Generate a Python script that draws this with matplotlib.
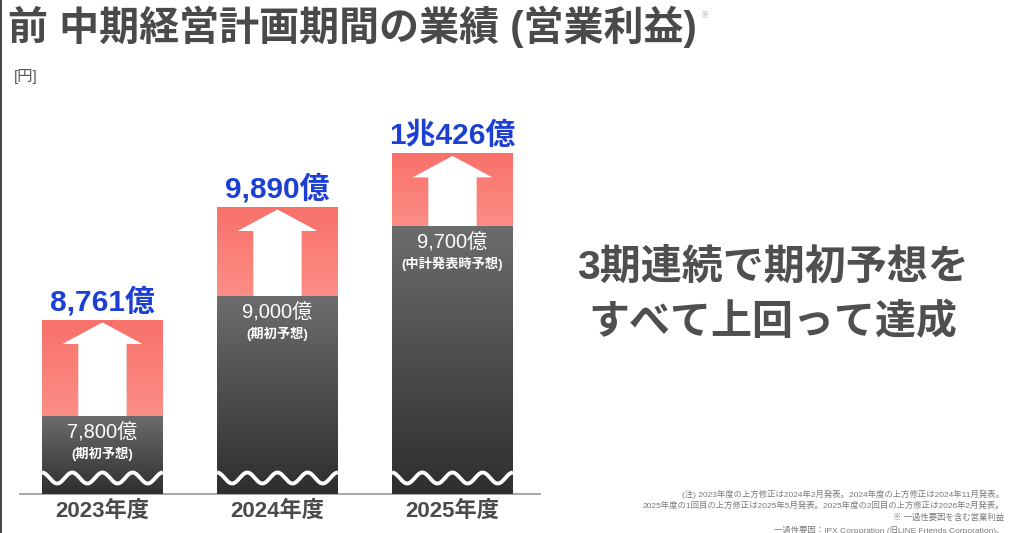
import numpy as np
import matplotlib
matplotlib.use("Agg")
import matplotlib.pyplot as plt
from matplotlib.colors import LinearSegmentedColormap
from matplotlib.lines import Line2D

# Latin glyphs from Liberation Sans, Japanese falls back to Noto CJK
plt.rcParams['font.family'] = ['Liberation Sans', 'Noto Sans CJK JP', 'DejaVu Sans']

# data (億円)
years = ["2023年度", "2024年度", "2025年度"]
forecast = [7800, 9000, 9700]
actual = [8761, 9890, 10426]
actual_labels = ["8,761億", "9,890億", "1兆426億"]
forecast_labels = ["7,800億", "9,000億", "9,700億"]
forecast_notes = ["(期初予想)", "(期初予想)", "(中計発表時予想)"]
footnotes = [
    "(注) 2023年度の上方修正は2024年2月発表。2024年度の上方修正は2024年11月発表。",
    "2025年度の1回目の上方修正は2025年5月発表。2025年度の2回目の上方修正は2026年2月発表。",
    "※ 一過性要因を含む営業利益",
    "一過性要因：IPX Corporation (旧LINE Friends Corporation)、",
]

W, H = 1024, 533
fig = plt.figure(figsize=(W / 100, H / 100), dpi=100)
fig.patch.set_facecolor("white")

ymin, ymax = 7020, 10960
ax = fig.add_axes([20 / W, 39 / H, 520 / W, 394 / H])
ax.set_xlim(-0.471, 2.5)
ax.set_ylim(ymin, ymax)
for s in ["top", "left", "right"]:
    ax.spines[s].set_visible(False)
ax.spines["bottom"].set_color("#a0a0a0")
ax.spines["bottom"].set_linewidth(1.3)
ax.set_yticks([])
x = np.arange(len(years))
ax.set_xticks(x)
ax.set_xticklabels(years, fontsize=16, fontweight="bold", color="#4a4a4a")
ax.tick_params(axis="x", length=0, pad=5)

bw = 0.69
gray_cmap = LinearSegmentedColormap.from_list("g", ["#2e2e2e", "#6c6c6c"])
red_cmap = LinearSegmentedColormap.from_list("r", ["#fb8e86", "#f8716a"])
grad = np.linspace(0, 1, 256).reshape(-1, 1)

gray_bars = ax.bar(x, np.array(forecast) - ymin, bottom=ymin, width=bw, color="#4a4a4a", zorder=2)
red_bars = ax.bar(x, np.array(actual) - np.array(forecast), bottom=forecast, width=bw,
                  color="#f97870", zorder=2)

for bars, cmap in [(gray_bars, gray_cmap), (red_bars, red_cmap)]:
    for b in bars:
        x0, y0 = b.get_x(), b.get_y()
        im = ax.imshow(grad, cmap=cmap, origin="lower", aspect="auto", zorder=3,
                       extent=[x0, x0 + b.get_width(), y0, y0 + b.get_height()])
        im.set_clip_path(b)

for i in range(len(years)):
    # white arrow inside the red part
    hw, sw, hh = bw * 0.33, bw * 0.2, 215
    tip = actual[i] - 25
    px = [x[i] - sw, x[i] - sw, x[i] - hw, x[i], x[i] + hw, x[i] + sw, x[i] + sw]
    py = [forecast[i], tip - hh, tip - hh, tip, tip - hh, tip - hh, forecast[i]]
    ax.fill(px, py, color="white", zorder=4, lw=0)

    # wave marking the broken axis
    wx = np.linspace(x[i] - bw / 2, x[i] + bw / 2, 200)
    wy = 7180 + 55 * np.cos((wx - (x[i] - bw / 2)) / bw * 2 * np.pi * 4)
    ax.plot(wx, wy, color="white", lw=2.8, zorder=5, solid_capstyle="butt")

    ax.text(x[i], actual[i] + 180, actual_labels[i], ha="center", va="center",
            fontsize=21.5, fontweight="bold", color="#1c3fd4", zorder=6)
    ax.text(x[i], forecast[i] - 165, forecast_labels[i], ha="center", va="center",
            fontsize=14.5, color="white", zorder=6)
    ax.text(x[i], forecast[i] - 375, forecast_notes[i], ha="center", va="center",
            fontsize=9.5, fontweight="bold", color="white", zorder=6)

title = fig.text(8 / W, 1 - 27 / H, "前 中期経営計画期間の業績 (営業利益)", ha="left", va="center",
                 fontsize=28.8, fontweight="bold", color="#4a4a4a")
fig.canvas.draw()
tb = title.get_window_extent()
fig.text((tb.x1 + 4) / W, 1 - 16 / H, "※", ha="left", va="center", fontsize=6, color="#999999")
fig.text(14 / W, 1 - 77 / H, "[円]", ha="left", va="center", fontsize=11, color="#555555")

fig.text(773 / W, 1 - 267 / H, "3期連続で期初予想を", ha="center", va="center",
         fontsize=29.5, fontweight="bold", color="#4f4f4f")
fig.text(773 / W, 1 - 322 / H, "すべて上回って達成", ha="center", va="center",
         fontsize=29.5, fontweight="bold", color="#4f4f4f")

for k, line in enumerate(footnotes):
    fig.text(1004 / W, 1 - (494 + 12 * k) / H, line, ha="right", va="center",
             fontsize=6, color="#7a7a7a")

fig.add_artist(Line2D([1 / W, 1 / W], [0, 1], color="#222222", lw=1.2))

fig.savefig("out.png", dpi=100)
